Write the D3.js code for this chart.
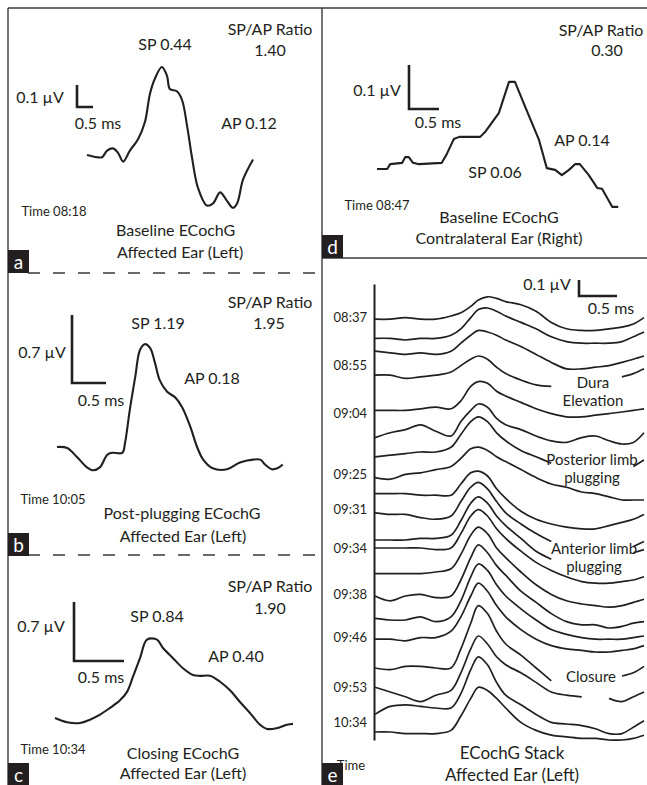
<!DOCTYPE html>
<html>
<head>
<meta charset="utf-8">
<script src="https://cdn.jsdelivr.net/npm/d3@7"></script>
<style>
  body { margin: 0; background: #fff; }
  svg text { font-family: Lato, "Open Sans", sans-serif; fill: #231f20; }
</style>
</head>
<body>
<svg width="647" height="785"></svg>
<script>
// ---- data (time in ms, amplitude in µV) ----

// a: baseline ECochG, affected ear
const aTime = [0,0.31,0.47,0.63,0.81,0.97,1.13,1.34,1.59,1.81,1.97,2.13,2.34,2.5,2.59,2.81,2.97,3.13,3.28,3.47,3.75,3.94,4.16,4.38,4.56,4.69,4.88,5.19];
const aVolt = [0,-0.01,-0.01,0.02,0.03,0.01,-0.03,0.02,0.07,0.15,0.28,0.35,0.40,0.36,0.30,0.29,0.25,0.13,-0.01,-0.15,-0.23,-0.22,-0.17,-0.21,-0.24,-0.22,-0.11,-0.02];

// b: post-plugging
const bTime = [0,0.15,0.29,0.44,0.53,0.63,0.74,0.81,0.96,1.0,1.07,1.15,1.22,1.29,1.37,1.44,1.51,1.62,1.74,1.84,1.96,2.06,2.15,2.29,2.5,2.69,2.88,2.99,3.06,3.16,3.24,3.32];
const bVolt = [0,-0.01,-0.1,-0.21,-0.24,-0.21,-0.08,-0.06,-0.06,0.04,0.38,0.72,1.0,1.06,1.02,0.87,0.69,0.57,0.51,0.41,0.21,0,-0.13,-0.22,-0.23,-0.16,-0.13,-0.13,-0.18,-0.23,-0.22,-0.18];

// c: closing
const cTime = [0,0.12,0.25,0.35,0.45,0.55,0.65,0.72,0.78,0.85,0.92,1.02,1.08,1.18,1.28,1.38,1.45,1.55,1.65,1.75,1.85,1.95,2.05,2.12,2.22,2.32,2.38];
const cVolt = [0,-0.05,-0.06,-0.02,0.04,0.12,0.21,0.31,0.49,0.71,0.93,0.93,0.83,0.71,0.59,0.51,0.5,0.5,0.43,0.33,0.19,0.06,-0.08,-0.13,-0.12,-0.08,-0.07];

// d: contralateral ear
const dTime = [0,0.17,0.22,0.42,0.47,0.53,0.6,0.7,1.08,1.17,1.28,1.37,1.72,1.8,2.03,2.2,2.3,2.47,2.7,2.83,2.97,3.08,3.2,3.3,3.38,3.53,3.67,3.75,3.92,4.02];
const dVolt = [0,0,0.011,0.014,0.027,0.027,0.014,0.011,0.014,0.036,0.068,0.073,0.073,0.084,0.127,0.198,0.198,0.141,0.066,0.002,-0.002,-0.014,-0.002,0.011,0.011,-0.014,-0.043,-0.045,-0.086,-0.086];

// e: stack, one shared time grid, null = gap where a note sits
const stackTime = [0,0.2,0.4,0.6,0.8,1.0,1.13,1.26,1.36,1.48,1.6,1.72,1.92,2.12,2.32,2.52,2.72,2.9,3.08,3.25,3.4,3.54];
const stackOffset = [2.63,2.51,2.43,2.28,2.06,1.89,1.77,1.64,1.54,1.42,1.25,1.2,1.04,0.9,0.76,0.63,0.45,0.33,0.16,0.05];
const stackTraces = [
  [0,0,0.01,0,0,0.02,0.04,0.08,0.12,0.14,0.13,0.11,0.09,0.05,-0.02,-0.06,-0.07,-0.07,-0.06,-0.05,-0.03,0.01],
  [0,0,-0.01,0,0,0.02,0.06,0.13,0.18,0.19,0.17,0.14,0.1,0.06,0.01,-0.02,-0.03,-0.03,-0.03,-0.02,0.01,0.04],
  [0,-0.01,-0.02,-0.01,-0.02,0,0.05,0.1,0.13,0.12,0.1,0.07,0.03,-0.02,-0.07,-0.11,-0.11,-0.1,-0.09,-0.07,-0.05,-0.03],
  [0,0,-0.02,-0.01,0,0.02,0.06,0.1,0.12,0.1,0.05,0.01,-0.03,-0.06,-0.07,null,null,null,null,-0.01,0.01,0.04],
  [0,0,0,0.01,0.02,0.01,0.06,0.15,0.18,0.17,0.12,0.09,0.05,0.01,-0.02,-0.04,-0.04,-0.03,-0.02,-0.01,0,0.01],
  [0,0.03,0.05,0.08,0.04,0.01,0.1,0.17,0.21,0.19,0.12,0.08,0.05,0.01,-0.02,-0.03,0,0.01,-0.02,-0.04,-0.03,0.03],
  [0,0.01,0.02,0.03,0.03,0.06,0.14,0.22,0.25,0.22,0.15,0.1,0.04,0,-0.04,null,null,null,null,null,-0.06,-0.02],
  [0,-0.01,0.02,0.03,0.05,0.07,0.12,0.18,0.19,0.17,0.13,0.1,0.05,0,-0.04,-0.06,-0.09,-0.1,-0.12,-0.14,-0.14,-0.14],
  [0,0,0,-0.01,-0.01,-0.01,0.06,0.13,0.14,0.11,0.03,-0.03,-0.11,-0.16,-0.19,-0.21,-0.22,-0.22,-0.2,-0.18,-0.16,-0.13],
  [0,-0.01,-0.01,-0.03,-0.04,-0.02,0.07,0.16,0.19,0.15,0.07,0,-0.07,-0.13,-0.18,null,null,null,null,null,-0.21,-0.18],
  [0,0,0,0.01,0.01,0.03,0.12,0.23,0.27,0.23,0.15,0.09,0.01,-0.07,-0.12,null,null,null,null,null,-0.08,-0.06],
  [0,0,0,0,-0.01,0,0.09,0.2,0.24,0.2,0.12,0.06,-0.02,-0.09,-0.14,-0.18,-0.21,-0.22,-0.22,-0.21,-0.2,-0.18],
  [0,0,0,0,0.01,0.03,0.12,0.24,0.29,0.25,0.16,0.1,0.01,-0.07,-0.13,-0.17,-0.19,-0.2,-0.21,-0.2,-0.18,-0.16],
  [0,-0.03,0,0.01,-0.01,0,0.1,0.24,0.32,0.27,0.19,0.13,0.03,-0.04,-0.11,-0.16,-0.18,-0.18,-0.2,-0.19,-0.17,-0.16],
  [0,-0.01,-0.01,0.01,-0.02,0.01,0.11,0.26,0.34,0.3,0.21,0.14,0.06,-0.01,-0.07,-0.1,-0.12,-0.13,-0.13,-0.13,-0.12,-0.11],
  [0,0,-0.01,0.01,0.01,0.05,0.14,0.27,0.35,0.3,0.21,0.14,0.06,0,-0.04,-0.06,-0.07,-0.08,-0.08,-0.07,-0.06,-0.04],
  [0,-0.01,0.01,0.01,0,0,0.12,0.28,0.39,0.34,0.23,0.15,0.08,0,-0.08,null,null,null,null,-0.05,-0.03,0.01],
  [0,-0.03,-0.06,-0.09,-0.05,-0.02,0.09,0.24,0.32,0.27,0.19,0.14,0.09,0.03,-0.03,-0.05,-0.06,null,-0.07,-0.09,-0.06,-0.03],
  [0,0.05,0.06,0.05,0.04,0.04,0.13,0.28,0.36,0.31,0.2,0.12,0.06,0,-0.05,-0.06,-0.07,-0.09,-0.12,-0.12,-0.08,-0.04],
  [0,0,-0.01,-0.01,-0.01,0.01,0.1,0.21,0.28,0.26,0.21,0.15,0.06,0.01,-0.02,-0.03,-0.04,-0.04,-0.05,-0.05,-0.04,-0.02]
];
const stackTicks = ["08:37","08:55","09:04","09:25","09:31","09:34","09:38","09:46","09:53","10:34"];
const stackTickPos = [2.64,2.34,2.04,1.66,1.44,1.2,0.91,0.64,0.33,0.11];

// ---- drawing ----
const ink = "#231f20";
const svg = d3.select("svg");

const addText = (g, rows) => {
  rows.forEach(([txt, x, y, size, anchor]) => {
    g.append("text")
      .attr("x", x)
      .attr("y", y)
      .attr("dy", "0.35em")
      .attr("font-size", size)
      .attr("text-anchor", anchor || "middle")
      .text(txt);
  });
};

// one waveform panel: origin is where t=0, v=0 lands
const wavePanel = (selection, props) => {
  const { time, volt, origin, msPx, uvPx, curve, bar, texts } = props;
  const x = d3.scaleLinear().domain([0, 1]).range([origin[0], origin[0] + msPx]);
  const y = d3.scaleLinear().domain([0, 1]).range([origin[1], origin[1] - uvPx]);
  const g = selection.append("g");

  const line = d3.line().x(d => x(d[0])).y(d => y(d[1])).curve(curve);
  g.append("path")
    .datum(d3.zip(time, volt))
    .attr("d", line)
    .attr("fill", "none")
    .attr("stroke", ink)
    .attr("stroke-width", 2.1)
    .attr("stroke-linejoin", "round");

  // scale bar
  const vLen = y(0) - y(bar.uv);
  const hLen = x(bar.ms) - x(0);
  g.append("path")
    .attr("d", `M${bar.at[0]},${bar.at[1] - vLen}V${bar.at[1]}H${bar.at[0] + hLen}`)
    .attr("fill", "none")
    .attr("stroke", ink)
    .attr("stroke-width", 2.6);

  addText(g, texts);
};

// frame
const frame = svg.append("g").attr("stroke", "#3a3a3a").attr("stroke-width", 1.4);
[[8, 8, 647, 8], [8, 8, 8, 785], [322, 8, 322, 785], [322, 258, 647, 258]].forEach(([x1, y1, x2, y2]) => {
  frame.append("line").attr("x1", x1).attr("y1", y1).attr("x2", x2).attr("y2", y2);
});
[273, 555].forEach(yy => {
  svg.append("line")
    .attr("x1", 28).attr("x2", 322).attr("y1", yy).attr("y2", yy)
    .attr("stroke", "#3a3a3a").attr("stroke-width", 1.5)
    .attr("stroke-dasharray", "12,13");
});

svg.call(wavePanel, {
  time: aTime, volt: aVolt, origin: [87, 155], msPx: 32, uvPx: 220,
  curve: d3.curveCatmullRom,
  bar: { at: [77, 107], ms: 0.5, uv: 0.1 },
  texts: [
    ["SP/AP Ratio", 270, 29, 16], ["1.40", 270, 50, 16], ["SP 0.44", 165, 44, 16],
    ["0.1 µV", 40, 97, 16], ["0.5 ms", 98, 123, 16], ["AP 0.12", 249, 123, 16],
    ["Time 08:18", 54, 211, 13],
    ["Baseline ECochG", 116, 230, 16, "start"], ["Affected Ear (Left)", 117, 252, 16, "start"]
  ]
});

svg.call(wavePanel, {
  time: bTime, volt: bVolt, origin: [57, 447], msPx: 68, uvPx: 97,
  curve: d3.curveCatmullRom,
  bar: { at: [72, 383], ms: 0.5, uv: 0.7 },
  texts: [
    ["SP/AP Ratio", 270, 302, 16], ["1.95", 269, 323, 16], ["SP 1.19", 158, 323, 16],
    ["0.7 µV", 42, 352, 16], ["0.5 ms", 101, 400, 16], ["AP 0.18", 212, 378, 16],
    ["Time 10:05", 53, 499, 13],
    ["Post-plugging ECochG", 182, 513, 16], ["Affected Ear (Left)", 183, 536, 16]
  ]
});

svg.call(wavePanel, {
  time: cTime, volt: cVolt, origin: [55, 718], msPx: 100, uvPx: 84.3,
  curve: d3.curveCatmullRom,
  bar: { at: [74, 661], ms: 0.5, uv: 0.7 },
  texts: [
    ["SP/AP Ratio", 270, 586, 16], ["1.90", 270, 608, 16], ["SP 0.84", 157, 616, 16],
    ["0.7 µV", 41, 626, 16], ["0.5 ms", 101, 677, 16], ["AP 0.40", 236, 656, 16],
    ["Time 10:34", 53, 749, 13],
    ["Closing ECochG", 183, 753, 16], ["Affected Ear (Left)", 183, 773, 16]
  ]
});

svg.call(wavePanel, {
  time: dTime, volt: dVolt, origin: [377, 169], msPx: 60, uvPx: 440,
  curve: d3.curveLinear,
  bar: { at: [409, 109], ms: 0.5, uv: 0.1 },
  texts: [
    ["SP/AP Ratio", 601, 30, 16], ["0.30", 607, 50, 16],
    ["0.1 µV", 377, 90, 16], ["0.5 ms", 438, 122, 16], ["AP 0.14", 582, 140, 16],
    ["SP 0.06", 495, 172, 16], ["Time 08:47", 377, 205, 13],
    ["Baseline ECochG", 499, 217, 16], ["Contralateral Ear (Right)", 499, 238, 16]
  ]
});

// e: stacked traces
const xE = d3.scaleLinear().domain([0, 3.54]).range([375, 644]);
const yE = d3.scaleLinear().domain([0, 2.85]).range([740, 284]);
const eG = svg.append("g");

const yAxisE = d3.axisLeft(yE)
  .tickValues(stackTickPos)
  .tickFormat((d, i) => stackTicks[i])
  .tickSize(0)
  .tickSizeOuter(0)
  .tickPadding(7);
const axisG = eG.append("g").attr("transform", "translate(374,0)").call(yAxisE);
axisG.select(".domain").attr("stroke", ink).attr("stroke-width", 2);
axisG.selectAll("text").attr("font-size", 13).attr("font-family", "Lato, sans-serif").attr("fill", ink);

const stackLine = d3.line()
  .defined(d => d[1] != null)
  .x(d => xE(d[0]))
  .y(d => yE(d[1]))
  .curve(d3.curveCatmullRom);

eG.selectAll(".trace")
  .data(stackTraces)
  .enter()
  .append("path")
  .attr("class", "trace")
  .attr("d", (vals, i) => stackLine(stackTime.map((t, j) => [t, vals[j] == null ? null : vals[j] + stackOffset[i]])))
  .attr("fill", "none")
  .attr("stroke", ink)
  .attr("stroke-width", 1.7);

const vLenE = yE(0) - yE(0.1);
const hLenE = xE(0.5) - xE(0);
eG.append("path")
  .attr("d", `M579,${296 - vLenE}V296H${579 + hLenE}`)
  .attr("fill", "none").attr("stroke", ink).attr("stroke-width", 2.6);

addText(eG, [
  ["0.1 µV", 547, 284, 16], ["0.5 ms", 611, 308, 16],
  ["Dura", 593, 383, 15], ["Elevation", 593, 401, 15],
  ["Posterior limb", 592, 460, 15], ["plugging", 592, 478, 15],
  ["Anterior limb", 594, 549, 15], ["plugging", 594, 567, 15],
  ["Closure", 591, 677, 15],
  ["ECochG  Stack", 512, 753, 17], ["Affected Ear (Left)", 512, 775, 17],
  ["Time", 351, 765, 13]
]);

// panel letters
[["a", 8, 250], ["b", 8, 533], ["c", 8, 763], ["d", 322, 235], ["e", 322, 763]].forEach(([l, x, y]) => {
  svg.append("rect").attr("x", x).attr("y", y).attr("width", 21).attr("height", 23).attr("fill", ink);
  svg.append("text")
    .attr("x", x + 10.5).attr("y", y + 12).attr("dy", "0.35em")
    .attr("text-anchor", "middle").attr("font-size", 19)
    .style("fill", "#fff")
    .text(l);
});
</script>
</body>
</html>
